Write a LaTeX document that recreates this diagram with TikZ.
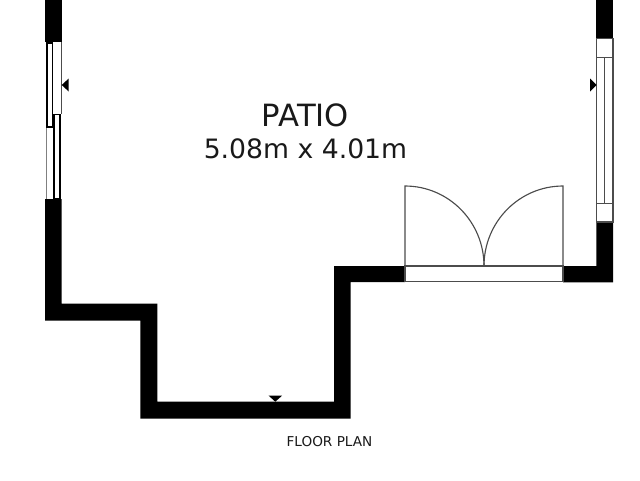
\documentclass[tikz,border=0pt]{standalone}
\usepackage{fontspec}
\setmainfont{DejaVu Sans}
\tikzset{
  px/.style={x=0.75pt,y=-0.75pt},
  wall/.style={fill=black,draw=none},
  thin/.style={draw=black!70,line width=0.85pt},
  sash/.style={draw=black!70,fill=white,line width=0.85pt},
  marker/.style={fill=black,draw=none},
  roomtext/.style={inner sep=0pt,anchor=center,text=black!90}
}
\begin{document}
\begin{tikzpicture}[px]
\useasboundingbox (0,0) rectangle (640,480);
\fill[white] (0,0) rectangle (640,480);
% left wall and sliding window
\fill[wall] (45,0) rectangle (61.7,42);
\fill[wall] (46,42) rectangle (53.3,128);
\fill[wall] (53.3,114) rectangle (60.7,199);
\fill[white] (53.3,42.5) rectangle (61.4,113.7);
\draw[thin] (61.7,42) -- (61.7,114);
\fill[white] (48,44) rectangle (52,126);
\fill[white] (46.3,128) rectangle (53.3,199);
\draw[draw=black!50,line width=0.5pt] (46.3,128) -- (46.3,199);
\fill[white] (55,115.3) rectangle (59,198);
% lower walls
\fill[wall] (45,199) -- (45,320.6) -- (140.3,320.6) -- (140.3,418.7) -- (350.7,418.7)
  -- (350.7,282) -- (405,282) -- (405,266) -- (334,266) -- (334,401.7) -- (157.3,401.7)
  -- (157.3,303.7) -- (61.7,303.7) -- (61.7,199) -- cycle;
% right wall
\fill[wall] (596.3,0) rectangle (613,38.3);
\fill[wall] (563,266) -- (596.3,266) -- (596.3,222) -- (613,222) -- (613,282.3) -- (563,282.3) -- cycle;
\draw[thin] (596.3,38.3) rectangle (613,222);
\draw[thin] (596.3,57.5) -- (613,57.5);
\draw[thin] (596.3,203.5) -- (613,203.5);
\draw[thin] (604.7,57.5) -- (604.7,203.5);
% patio doors
\draw[sash] (405,266) rectangle (563,281.8);
\draw[thin] (484,266) arc[start angle=0,end angle=90,x radius=79,y radius=-80] -- (405,266);
\draw[thin] (484,266) arc[start angle=180,end angle=90,x radius=79,y radius=-80] -- (563,266);
% markers
\fill[marker] (61.7,85) -- (68.7,78.5) -- (68.7,91.5) -- cycle;
\fill[marker] (596.7,85) -- (590,78.5) -- (590,91.5) -- cycle;
\fill[marker] (275.3,401.7) -- (268.7,395.7) -- (282,395.7) -- cycle;
% labels
\node[roomtext,font=\fontsize{23pt}{26pt}\selectfont] (patio) at (305.5,115.5) {PATIO};
\node[roomtext,font=\fontsize{20pt}{24pt}\selectfont] (size) at (305.5,149) {5.08m x 4.01m};
\node[roomtext,font=\fontsize{10.2pt}{12pt}\selectfont] (plan) at (329.5,442) {FLOOR PLAN};
\end{tikzpicture}
\end{document}
